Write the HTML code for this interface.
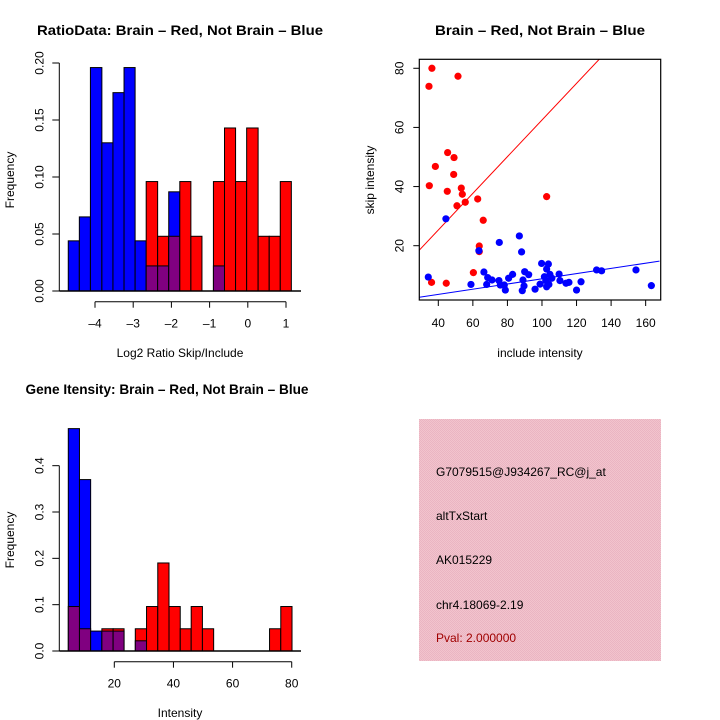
<!DOCTYPE html>
<html><head><meta charset="utf-8"><style>
body{margin:0;background:#fff}
svg{display:block;font-family:"Liberation Sans",Arial,sans-serif}
</style></head><body>
<svg id="s" width="720" height="720" viewBox="0 0 720 720">
<defs>
<pattern id="pk" width="2" height="2" patternUnits="userSpaceOnUse">
<rect width="2" height="2" fill="#f2c4cd"/><rect width="1" height="1" fill="#eab4c2"/><rect x="1" y="1" width="1" height="1" fill="#eab4c2"/>
</pattern>
</defs>
<g id="g1"></g>
<g id="g2"></g>
<g id="g3"></g>
<g>
<rect x="419" y="419" width="242" height="242" fill="url(#pk)"/>
<text x="436" y="476" font-size="12">G7079515@J934267_RC@j_at</text>
<text x="436" y="520" font-size="12">altTxStart</text>
<text x="436" y="564" font-size="12">AK015229</text>
<text x="436" y="609" font-size="12">chr4.18069-2.19</text>
<text x="436" y="642" font-size="12" fill="#a00000">Pval: 2.000000</text>
</g>
</svg>
<script>
// ---- data ----
const ratioBins = [-4.70,-4.41,-4.12,-3.82,-3.53,-3.24,-2.95,-2.66,-2.36,-2.07,-1.78,-1.49,-1.20,-0.90,-0.61,-0.32,-0.03,0.27,0.56,0.85,1.14];
const ratioBlue = [0.044,0.065,0.196,0.130,0.174,0.196,0.044,0.022,0.022,0.087,0,0,0,0.022,0,0,0,0,0,0];
const ratioRed  = [0,0,0,0,0,0,0,0.096,0.048,0.048,0.096,0.048,0,0.096,0.143,0.096,0.143,0.048,0.048,0.096];
const ratioYTicks = [0,0.05,0.10,0.15,0.20];
const ratioYLabels = ["0.00","0.05","0.10","0.15","0.20"];
const ratioXTicks = [-4,-3,-2,-1,0,1];

const intBins = [4.44,8.22,12.0,15.8,19.6,23.3,27.1,30.9,34.7,38.5,42.3,46.0,49.8,53.6,57.4,61.2,65.0,68.7,72.5,76.3,80.1];
const intBlue = [0.48,0.37,0.043,0.043,0.043,0,0.022,0,0,0,0,0,0,0,0,0,0,0,0,0];
const intRed  = [0.096,0.048,0,0.048,0.048,0,0.048,0.096,0.19,0.096,0.048,0.096,0.048,0,0,0,0,0,0.048,0.096];
const intYTicks = [0,0.1,0.2,0.3,0.4];
const intYLabels = ["0.0","0.1","0.2","0.3","0.4"];
const intXTicks = [20,40,60,80];

const redX = [36.3,34.6,51.4,45.4,49.1,38.3,48.9,34.8,53.3,45.2,53.9,55.6,50.8,62.8,102.7,66,63.7,63.7,60.3,36.1,44.6];
const redY = [80,73.9,77.3,51.5,49.8,46.8,44.1,40.3,39.5,38.4,37.4,34.7,33.5,35.8,36.6,28.6,19.9,18,10.9,7.6,7.3];
const blueX = [44.4,34.2,63.5,75.3,86.9,88.2,99.8,103.7,102.7,58.9,66.4,68.6,68,71.1,75.1,75.9,78.8,78.2,80.7,83,89,89.6,88.6,90,92.3,96,98.9,101.4,104.6,102.7,104,102.2,105.7,109.9,110.4,113.9,115.6,120,122.6,131.6,134.5,154.4,163.3];
const blueY = [29.1,9.4,18.3,21.1,23.3,17.9,14,13.8,12.1,6.9,11.1,9.2,6.9,8.4,8.2,6.7,5,6.7,9,10.3,8.4,6.4,4.8,11.2,10.2,5.3,7,9.5,10.3,6.1,6.9,8.2,9,10.4,8.2,7.3,7.6,5,7.8,11.8,11.5,11.8,6.5];
const redFit = [0.62,0.5];
const blueFit = [0.088,0.0];
const scXTicks = [40,60,80,100,120,140,160];
const scYTicks = [20,40,60,80];

const NS="http://www.w3.org/2000/svg";
function mk(parent,tag,attrs){const e=document.createElementNS(NS,tag);for(const k in attrs)e.setAttribute(k,attrs[k]);parent.appendChild(e);return e;}
function txt(parent,x,y,s,size,extra){const t=mk(parent,'text',Object.assign({x:x,y:y,'font-size':size,'text-anchor':'middle'},extra||{}));t.textContent=s;return t;}

function hist(g,bins,blue,red,yT,yL,xT,sx,sy,axisX,baseR,xAxisY,title,titleX,titleY,titleLen,xlab,xlabX,xlabY,ylabY){
  for(let i=0;i<blue.length;i++){
    const x0=sx(bins[i]),x1=sx(bins[i+1]);
    const b=blue[i],r=red[i];
    const hi=Math.max(b,r), lo=Math.min(b,r);
    if(hi>0){
      const e=mk(g,'rect',{x:x0,y:sy(hi),width:x1-x0,height:sy(0)-sy(hi),fill:r>=b?'#ff0000':'#0000ff',stroke:'#000','stroke-width':1});
      
      
    }
    if(lo>0){
      const e=mk(g,'rect',{x:x0,y:sy(lo),width:x1-x0,height:sy(0)-sy(lo),fill:'#800080',stroke:'#000','stroke-width':1});
      
      
    }
  }
  mk(g,'line',{x1:axisX,y1:sy(0),x2:baseR,y2:sy(0),stroke:'#000','stroke-width':1.5});
  mk(g,'line',{x1:axisX,y1:sy(yT[0]),x2:axisX,y2:sy(yT[yT.length-1]),stroke:'#000'});
  yT.forEach((v,i)=>{
    mk(g,'line',{x1:axisX-7,y1:sy(v),x2:axisX,y2:sy(v),stroke:'#000'});
    const t=txt(g,axisX-16,sy(v),yL[i],12,{transform:`rotate(-90 ${axisX-16} ${sy(v)})`});
    
    
  });
  mk(g,'line',{x1:sx(xT[0]),y1:xAxisY,x2:sx(xT[xT.length-1]),y2:xAxisY,stroke:'#000'});
  xT.forEach(v=>{
    mk(g,'line',{x1:sx(v),y1:xAxisY,x2:sx(v),y2:xAxisY+6,stroke:'#000'});
    const t=txt(g,sx(v),xAxisY+26,String(v).replace('-','\u2013'),12);
    
    
  });
  const tt=txt(g,titleX,titleY,title,14,{'font-weight':'bold',textLength:titleLen,lengthAdjust:'spacingAndGlyphs'});
  
  
  const xl=txt(g,xlabX,xlabY,xlab,12);
  
  
  const yl=txt(g,14,ylabY,'Frequency',12,{transform:`rotate(-90 14 ${ylabY})`});
  
  
}

hist(document.getElementById('g1'),ratioBins,ratioBlue,ratioRed,ratioYTicks,ratioYLabels,ratioXTicks,
  v=>95+(v+4)*38.2, v=>291-v*1140, 59.3,301,301.7,
  'RatioData: Brain \u2013 Red, Not Brain \u2013 Blue',180,35,286,'Log2 Ratio Skip/Include',180,357,180);

hist(document.getElementById('g3'),intBins,intBlue,intRed,intYTicks,intYLabels,intXTicks,
  v=>114.3+(v-20)*2.957, v=>651-v*463.3, 59.3,301,661.7,
  'Gene Itensity: Brain \u2013 Red, Not Brain \u2013 Blue',167,394,283,'Intensity',180,717,540);

(function(){
  const g=document.getElementById('g2');
  const sx=v=>438.3+(v-40)*1.728, sy=v=>245.7-(v-20)*2.957;
  const L=419.3,R=660.7,T=59.3,B=300;
  mk(g,'defs',{}).innerHTML='<clipPath id="cp"><rect x="419.3" y="59.3" width="241.4" height="240.7"/></clipPath>';
  const cg=mk(g,'g',{'clip-path':'url(#cp)'});
  const rl=mk(cg,'line',{x1:sx(29),y1:sy(redFit[0]*29+redFit[1]),x2:sx(168),y2:sy(redFit[0]*168+redFit[1]),stroke:'#ff0000'});
  
  
  const bl=mk(cg,'line',{x1:sx(29),y1:sy(blueFit[0]*29+blueFit[1]),x2:sx(168),y2:sy(blueFit[0]*168+blueFit[1]),stroke:'#0000ff'});
  
  
  redX.forEach((x,i)=>{const c=mk(cg,'circle',{cx:sx(x),cy:sy(redY[i]),r:3.6,fill:'#ff0000'});
    
    });
  blueX.forEach((x,i)=>{const c=mk(cg,'circle',{cx:sx(x),cy:sy(blueY[i]),r:3.6,fill:'#0000ff'});
    
    });
  mk(g,'rect',{x:L,y:T,width:R-L,height:B-T,fill:'none',stroke:'#000','stroke-width':1.2});
  scXTicks.forEach(v=>{mk(g,'line',{x1:sx(v),y1:B,x2:sx(v),y2:B+6,stroke:'#000'});
    const t=txt(g,sx(v),B+27,String(v),12);
    
    });
  scYTicks.forEach(v=>{mk(g,'line',{x1:L-6,y1:sy(v),x2:L,y2:sy(v),stroke:'#000'});
    const t=txt(g,L-16,sy(v),String(v),12,{transform:`rotate(-90 ${L-16} ${sy(v)})`});
    
    });
  const tt=txt(g,540,35,'Brain \u2013 Red, Not Brain \u2013 Blue',14,{'font-weight':'bold',textLength:210,lengthAdjust:'spacingAndGlyphs'});
  
  
  const xl=txt(g,540,357,'include intensity',12);
  
  
  const yl=txt(g,374,180,'skip intensity',12,{transform:'rotate(-90 374 180)'});
  
  
})();
</script>
</body></html>
